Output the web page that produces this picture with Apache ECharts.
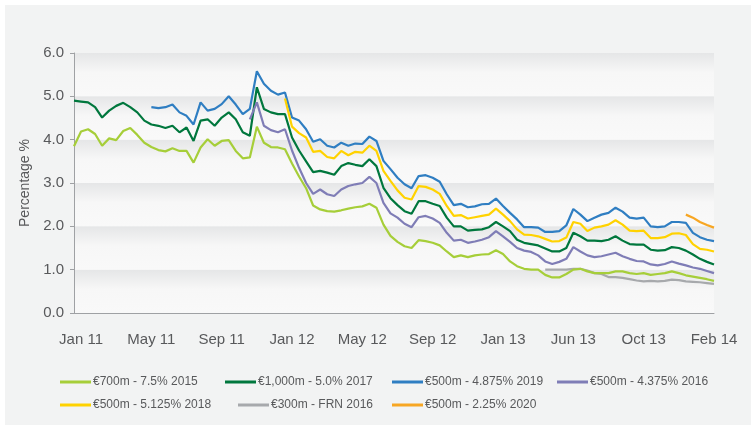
<!DOCTYPE html>
<html>
<head>
<meta charset="utf-8">
<script src="https://cdn.jsdelivr.net/npm/echarts@6/dist/echarts.min.js"></script>
<style>
  html, body { margin: 0; padding: 0; background: #fff; }
  #chart { position: absolute; left: 5px; top: 5px; width: 746px; height: 420px; background: #f2f3f3; }
</style>
</head>
<body>
<div id="chart"></div>
<script>
// x labels, shown every 10th point starting at index 1
const tickLabels = ['Jan 11', 'May 11', 'Sep 11', 'Jan 12', 'May 12', 'Sep 12', 'Jan 13', 'Jun 13', 'Oct 13', 'Feb 14'];
const names = ['€700m - 7.5% 2015', '€1,000m - 5.0% 2017', '€500m - 4.875% 2019', '€500m - 4.375% 2016',
  '€500m - 5.125% 2018', '€300m - FRN 2016', '€500m - 2.25% 2020'];
const colors = ['#a6ce39', '#00773d', '#2f7ec2', '#7f7db6', '#ffd200', '#a7a9ac', '#f7a623'];

const bond2015 = [3.85, 4.19, 4.24, 4.13, 3.86, 4.03, 3.99, 4.20, 4.27, 4.11, 3.93, 3.83,
  3.76, 3.73, 3.80, 3.74, 3.74, 3.47, 3.82, 4.01, 3.86, 3.97, 3.99,
  3.74, 3.57, 3.59, 4.30, 3.93, 3.83, 3.82, 3.78, 3.45, 3.15, 2.88, 2.48,
  2.39, 2.35, 2.34, 2.37, 2.41, 2.44, 2.46, 2.52, 2.43, 2.04, 1.78,
  1.64, 1.54, 1.50, 1.68, 1.66, 1.62, 1.56, 1.42, 1.29, 1.33, 1.29, 1.33,
  1.35, 1.36, 1.45, 1.36, 1.19, 1.08, 1.02, 1.00, 1.00, 0.88, 0.82,
  0.82, 0.90, 1.00, 1.02, 0.96, 0.92, 0.92, 0.92, 0.96, 0.96, 0.92, 0.90,
  0.92, 0.88, 0.90, 0.92, 0.96, 0.92, 0.87, 0.84, 0.81, 0.78, 0.74];
const bond2017 = [4.90, 4.88, 4.86, 4.75, 4.51, 4.67, 4.78, 4.85, 4.75, 4.63, 4.44, 4.35,
  4.32, 4.27, 4.32, 4.17, 4.28, 3.97, 4.44, 4.47, 4.32, 4.51, 4.63,
  4.47, 4.17, 4.09, 5.21, 4.71, 4.63, 4.59, 4.59, 4.05, 3.75, 3.50, 3.25,
  3.28, 3.24, 3.19, 3.39, 3.46, 3.42, 3.39, 3.55, 3.39, 2.89, 2.65,
  2.49, 2.35, 2.29, 2.58, 2.58, 2.52, 2.47, 2.20, 2.00, 2.00, 1.90, 1.92,
  1.93, 1.98, 2.10, 2.00, 1.89, 1.69, 1.62, 1.59, 1.56, 1.49, 1.42,
  1.42, 1.50, 1.85, 1.77, 1.67, 1.67, 1.66, 1.69, 1.77, 1.67, 1.59, 1.58,
  1.58, 1.46, 1.44, 1.45, 1.52, 1.50, 1.44, 1.35, 1.25, 1.18, 1.12];
const bond2019 = [null, null, null, null, null, null, null, null, null, null, null, 4.75,
  4.73, 4.75, 4.81, 4.63, 4.55, 4.35, 4.86, 4.67, 4.71, 4.82, 5.00,
  4.81, 4.59, 4.71, 5.58, 5.29, 5.13, 5.04, 5.09, 4.51, 4.44, 4.24, 3.95,
  4.01, 3.86, 3.82, 3.93, 3.86, 3.91, 3.90, 4.07, 3.97, 3.51, 3.32,
  3.12, 2.97, 2.88, 3.16, 3.18, 3.12, 3.03, 2.74, 2.49, 2.52, 2.44, 2.46,
  2.51, 2.52, 2.64, 2.47, 2.31, 2.16, 1.98, 1.98, 1.97, 1.87, 1.87,
  1.89, 2.02, 2.40, 2.27, 2.12, 2.20, 2.27, 2.31, 2.43, 2.34, 2.20, 2.18,
  2.20, 2.00, 1.98, 2.00, 2.10, 2.10, 2.08, 1.85, 1.75, 1.69, 1.66];
const bond2016 = [null, null, null, null, null, null, null, null, null, null, null, null,
  null, null, null, null, null, null, null, null, null, null, null,
  null, null, 4.47, 4.86, 4.32, 4.22, 4.17, 4.24, 3.75, 3.35, 3.00, 2.75,
  2.85, 2.74, 2.70, 2.85, 2.93, 2.97, 3.00, 3.14, 3.00, 2.54, 2.30,
  2.20, 2.06, 1.98, 2.21, 2.24, 2.18, 2.08, 1.85, 1.67, 1.69, 1.62, 1.65,
  1.69, 1.75, 1.89, 1.77, 1.64, 1.50, 1.44, 1.41, 1.33, 1.19, 1.13,
  1.18, 1.25, 1.52, 1.42, 1.33, 1.29, 1.31, 1.35, 1.39, 1.31, 1.25, 1.20,
  1.19, 1.12, 1.10, 1.13, 1.19, 1.14, 1.10, 1.05, 1.02, 0.97, 0.92];
const bond2018 = [null, null, null, null, null, null, null, null, null, null, null, null,
  null, null, null, null, null, null, null, null, null, null, null,
  null, null, null, null, null, null, null, 4.95, 4.30, 4.15, 4.05, 3.72,
  3.74, 3.60, 3.57, 3.74, 3.64, 3.72, 3.70, 3.86, 3.74, 3.28, 3.05,
  2.83, 2.66, 2.62, 2.93, 2.91, 2.85, 2.75, 2.47, 2.24, 2.26, 2.18, 2.21,
  2.24, 2.27, 2.41, 2.27, 2.12, 1.93, 1.81, 1.80, 1.77, 1.71, 1.65,
  1.66, 1.74, 2.10, 2.06, 1.89, 1.97, 2.00, 2.04, 2.14, 2.04, 1.90, 1.89,
  1.90, 1.73, 1.73, 1.75, 1.83, 1.84, 1.80, 1.59, 1.48, 1.46, 1.42];
const frn2016 = [null, null, null, null, null, null, null, null, null, null, null, null,
  null, null, null, null, null, null, null, null, null, null, null,
  null, null, null, null, null, null, null, null, null, null, null, null,
  null, null, null, null, null, null, null, null, null, null, null,
  null, null, null, null, null, null, null, null, null, null, null, null,
  null, null, null, null, null, null, null, null, null, 1.00, 1.00,
  1.00, 1.00, 1.02, 1.02, 0.98, 0.92, 0.90, 0.83, 0.83, 0.81, 0.78, 0.75,
  0.73, 0.74, 0.73, 0.74, 0.77, 0.76, 0.73, 0.72, 0.71, 0.69, 0.67];
const bond2020 = [null, null, null, null, null, null, null, null, null, null, null, null,
  null, null, null, null, null, null, null, null, null, null, null,
  null, null, null, null, null, null, null, null, null, null, null, null,
  null, null, null, null, null, null, null, null, null, null, null,
  null, null, null, null, null, null, null, null, null, null, null, null,
  null, null, null, null, null, null, null, null, null, null, null,
  null, null, null, null, null, null, null, null, null, null, null, null,
  null, null, null, null, null, null, 2.27, 2.20, 2.10, 2.03, 1.97];

const seriesData = [bond2015, bond2017, bond2019, bond2016, bond2018, frn2016, bond2020];
const categories = bond2015.map((v, i) => i);

const legendPos = [[55, 371], [220, 371], [387, 371], [552, 371], [55, 394], [233, 394], [387, 394]];

const chart = echarts.init(document.getElementById('chart'));
const textColor = '#58595b';
const font = 'Liberation Sans, Arial, sans-serif';

chart.setOption({
  backgroundColor: '#f2f3f3',
  animation: false,
  textStyle: { fontFamily: font },
  grid: { left: 69, top: 48, width: 640, height: 260, containLabel: false },
  legend: names.map((n, i) => ({
    data: [n],
    left: legendPos[i][0],
    top: legendPos[i][1],
    padding: 0,
    icon: 'rect',
    itemWidth: 31,
    itemHeight: 3,
    itemGap: 0,
    textStyle: { color: textColor, fontSize: 12, fontFamily: font, padding: [0, 0, 0, -3] }
  })),
  xAxis: {
    type: 'category',
    data: categories,
    boundaryGap: false,
    axisLine: { lineStyle: { color: '#9fa1a4', width: 1 } },
    axisTick: { show: false },
    axisLabel: {
      color: textColor,
      fontSize: 15,
      margin: 19,
      interval: (index) => (index - 1) % 10 === 0,
      formatter: (value, index) => tickLabels[(index - 1) / 10]
    },
    splitLine: { show: false }
  },
  yAxis: {
    type: 'value',
    min: 0,
    max: 6,
    interval: 1,
    name: 'Percentage %',
    nameLocation: 'middle',
    nameGap: 39,
    nameRotate: 90,
    nameTextStyle: { color: textColor, fontSize: 14 },
    axisLine: { show: true, lineStyle: { color: '#9fa1a4', width: 1 } },
    axisTick: { show: true, length: 4, lineStyle: { color: '#9fa1a4' } },
    axisLabel: { color: textColor, fontSize: 15, margin: 10, formatter: (v) => v.toFixed(1) },
    splitLine: { show: false },
    splitArea: {
      show: true,
      areaStyle: {
        color: [{
          type: 'linear', x: 0, y: 0, x2: 0, y2: 1,
          colorStops: [
            { offset: 0, color: '#e5e6e7' },
            { offset: 0.45, color: '#f7f7f7' },
            { offset: 1, color: '#f9f9f9' }
          ]
        }]
      }
    }
  },
  series: names.map((n, i) => ({
    name: n,
    type: 'line',
    data: seriesData[i],
    showSymbol: false,
    symbol: 'none',
    color: colors[i],
    lineStyle: { width: 2.2, color: colors[i] },
    z: 2 + (i === 5 ? -1 : 0)
  }))
});
</script>
</body>
</html>
